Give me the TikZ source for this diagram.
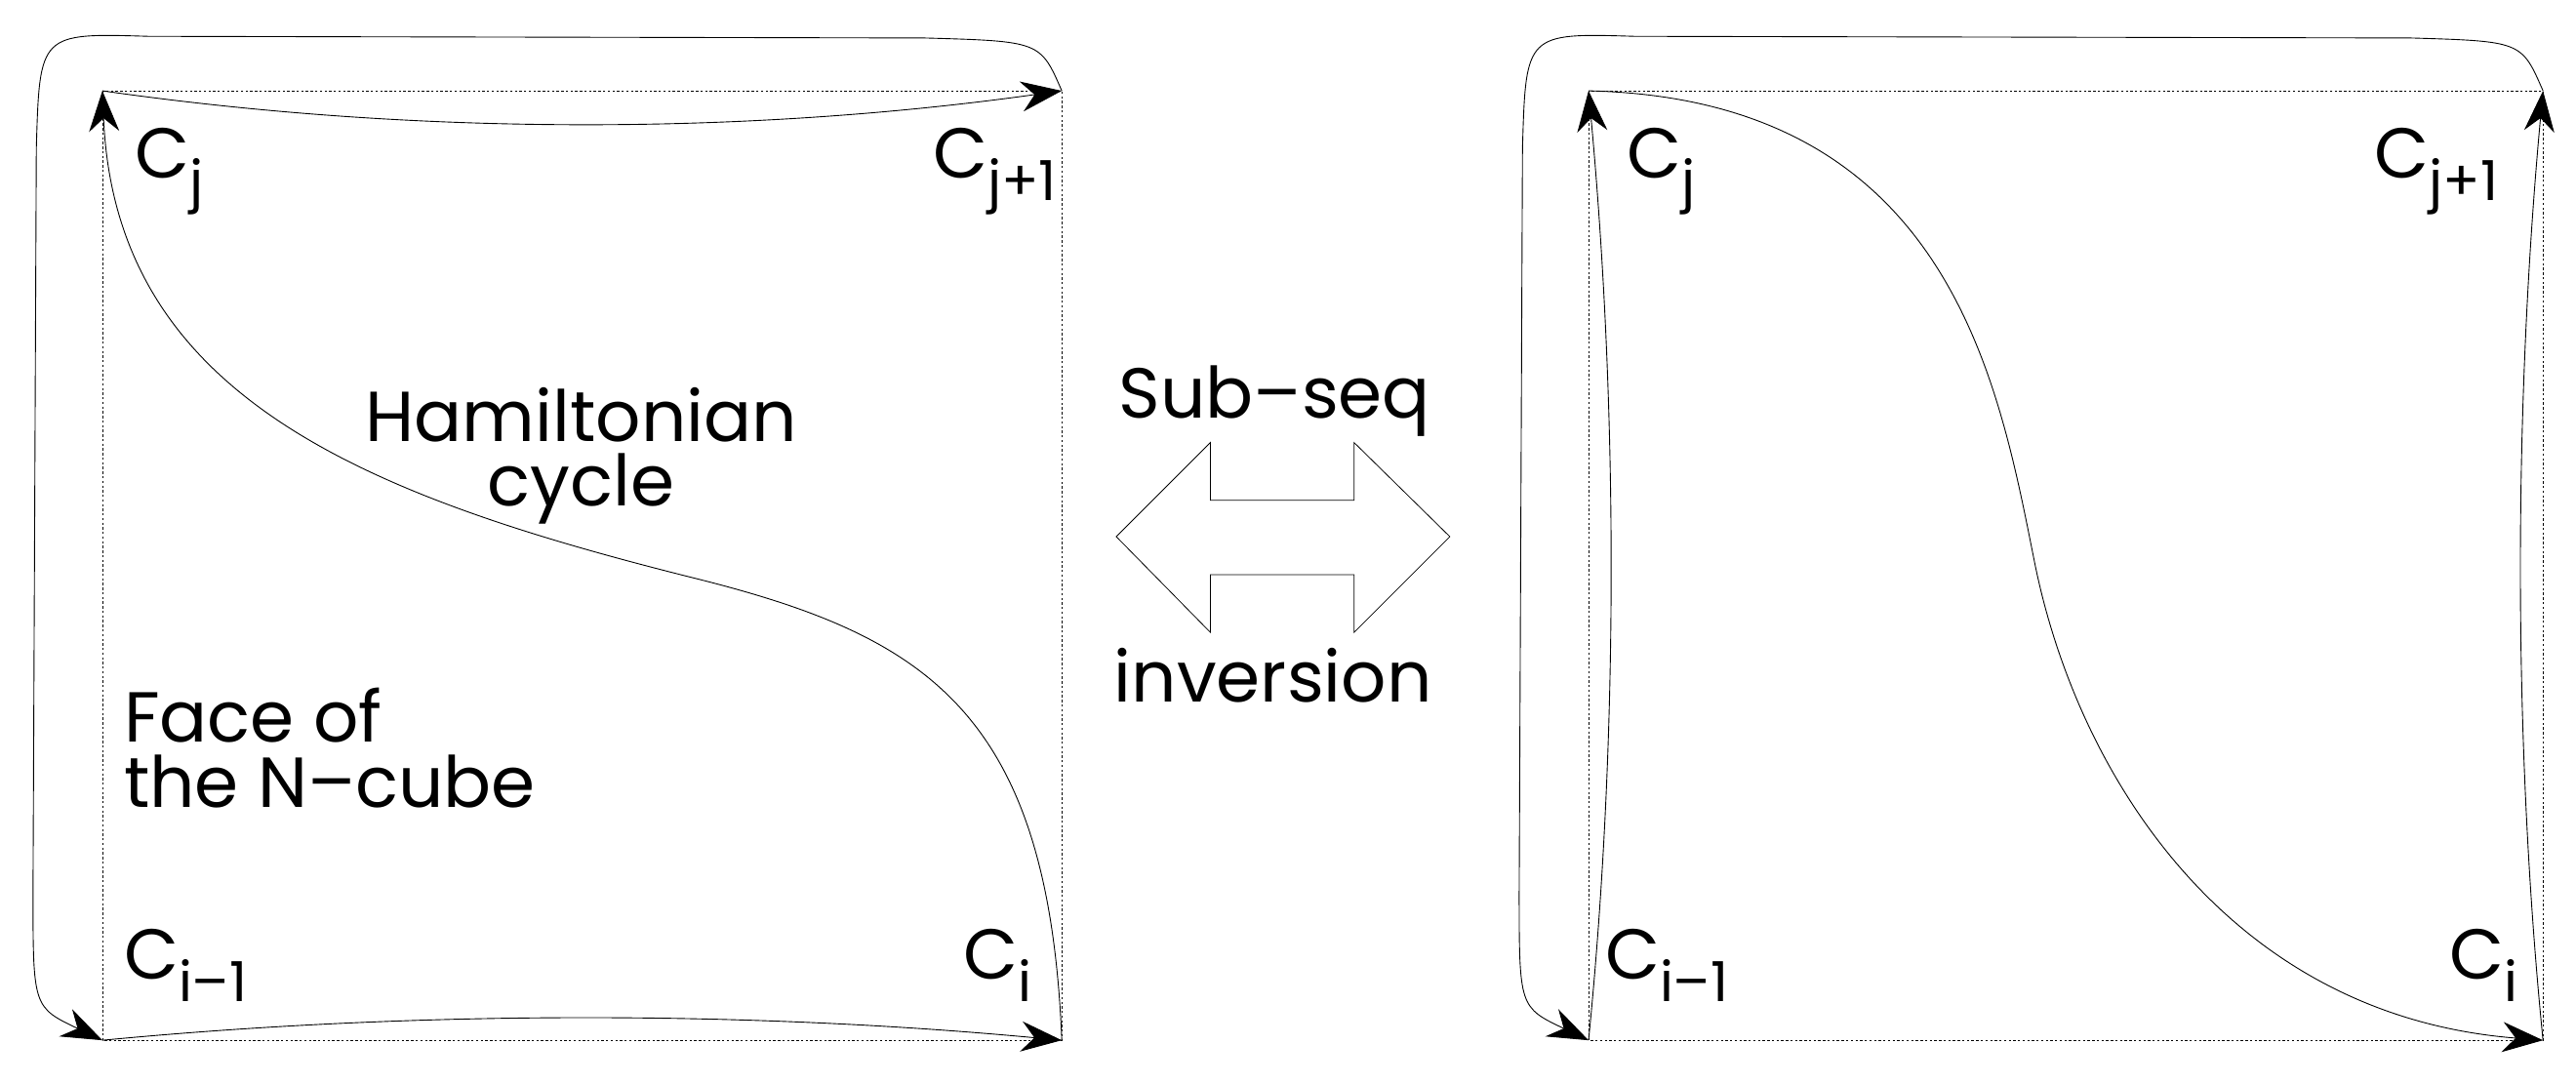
\documentclass[tikz,border=0pt]{standalone}
\usepackage{fontspec}
\setmainfont{Poppins}
\usetikzlibrary{arrows.meta}
\newcommand{\sbs}[1]{\raisebox{-0.32em}{\fontsize{95}{100}\selectfont #1}}
\begin{document}
\begin{tikzpicture}[x=0.1cm,y=-0.1cm,
  edge/.style={line width=1.5pt,-{Stealth[length=70pt,width=52pt]}},
  frame/.style={line width=1.2pt,dash pattern=on 4pt off 4pt},
  lbl/.style={font=\fontsize{122}{134}\selectfont,inner sep=0pt}]
\useasboundingbox (0,0) rectangle (1560,656);
% corners
\coordinate (Lj) at (62,55); \coordinate (Lj1) at (643,55);
\coordinate (Li1) at (62,630); \coordinate (Li) at (643,630);
\coordinate (Rj) at (962,55); \coordinate (Rj1) at (1540,55);
\coordinate (Ri1) at (962,630); \coordinate (Ri) at (1540,630);
\draw[frame] (Lj) rectangle (Li);
\draw[frame] (Rj) rectangle (Ri);
% left diagram
\draw[edge] (Lj1) .. controls (630,25) .. (560,23) -- (90,22) .. controls (24,20) .. (22,90) -- (20,540) .. controls (20,610) .. (Li1);
\draw[edge] (Lj) .. controls (250,82) and (450,82) .. (Lj1);
\draw[edge] (Li1) .. controls (250,612) and (450,612) .. (Li);
\draw[edge] (Li) .. controls (635,430) and (560,385) .. (420,350) .. controls (220,300) and (70,240) .. (Lj);
% right diagram
\draw[edge] (Rj1) .. controls (1527,25) .. (1460,23) -- (990,22) .. controls (924,20) .. (922,90) -- (920,540) .. controls (920,610) .. (Ri1);
\draw[edge] (Ri1) .. controls (980,450) and (980,250) .. (Rj);
\draw[edge] (Ri) .. controls (1522,450) and (1522,250) .. (Rj1);
\draw[edge] (Rj) .. controls (1180,60) and (1210,230) .. (1232,340) .. controls (1258,470) and (1350,615) .. (Ri);
% labels
\node[lbl,anchor=base west] (cj) at (82,108) {C\sbs{j}};
\node[lbl,anchor=base east] (cj1) at (640,108) {C\sbs{j+1}};
\node[lbl,anchor=base west] (ci1) at (75,593) {C\sbs{i–1}};
\node[lbl,anchor=base east] (ci) at (625,593) {C\sbs{i}};
\node[lbl,align=center] (ham) at (352,276) {Hamiltonian\\[-22pt]cycle};
\node[lbl,align=left,anchor=west] (face) at (75,453) {Face of\\[-22pt]the N–cube};
\node[lbl,anchor=base west] (rcj) at (985,108) {C\sbs{j}};
\node[lbl,anchor=base east] (rcj1) at (1513,108) {C\sbs{j+1}};
\node[lbl,anchor=base west] (rci1) at (972,593) {C\sbs{i–1}};
\node[lbl,anchor=base east] (rci) at (1525,593) {C\sbs{i}};
\node[lbl,anchor=base] (sub) at (772,253) {Sub–seq};
\node[lbl,anchor=base] (inv) at (771,425) {inversion};
% double arrow
\draw[line width=1.3pt] (676,325) -- (733,268) -- (733,303) -- (820,303) -- (820,268) -- (878,325) -- (820,383) -- (820,348) -- (733,348) -- (733,383) -- cycle;
\end{tikzpicture}
\end{document}
